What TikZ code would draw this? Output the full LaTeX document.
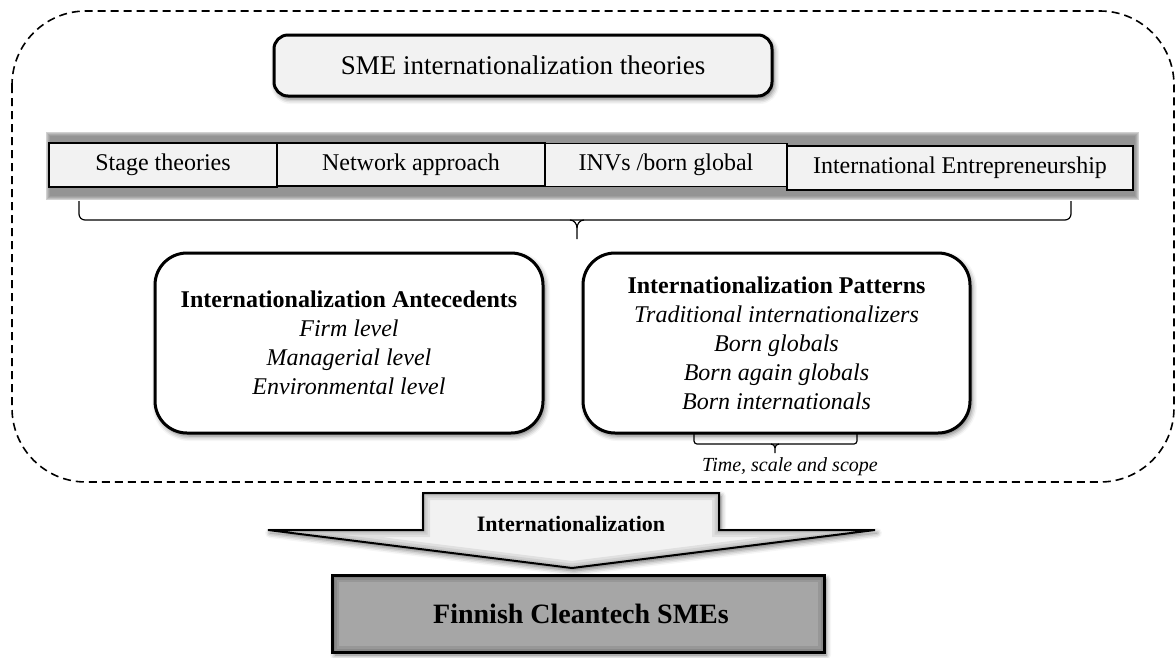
\documentclass[tikz,border=0pt]{standalone}
\usepackage{fontspec}
\setmainfont{Liberation Serif}
\usetikzlibrary{shadows.blur,calc}
\definecolor{lightfill}{HTML}{F2F2F2}
\definecolor{boxgray}{HTML}{A6A6A6}
\begin{document}
\begin{tikzpicture}[x=1pt,y=-1pt,
  body/.style={font=\fontsize{24}{29}\selectfont},
  softshadow/.style={blur shadow={shadow xshift=2pt,shadow yshift=-3pt,
      shadow blur radius=5pt,shadow opacity=55}},
  titlebox/.style={font=\fontsize{27}{32}\selectfont,draw,line width=3pt,
      rounded corners=14pt,fill=lightfill,softshadow,inner sep=0pt},
  strip/.style={body,draw,line width=1.4pt,fill=lightfill,inner sep=0pt,
      text height=16pt,text depth=5pt},
  roundbox/.style={body,draw,line width=3pt,rounded corners=32pt,fill=white,
      softshadow,align=center,inner sep=0pt,minimum width=388pt,minimum height=180pt},
  dashframe/.style={draw,line width=1.6pt,dash pattern=on 8pt off 5pt,rounded corners=74pt},
  bracket/.style={draw,line width=1.2pt},
  arrowpath/.style={insert path={(423,493) -- (719,493) -- (719,530) -- (875,530)
      -- (572,568) -- (268,530) -- (423,530) -- cycle}},
]
\useasboundingbox (0,0) rectangle (1176,657);

% outer dashed frame
\path[dashframe] (12,11) rectangle (1174,482);

% heading
\node[titlebox,minimum width=498pt,minimum height=61pt] (title) at (523,65.5)
  {SME internationalization theories};

% grey band behind the four theory boxes
\node[minimum width=1093pt,minimum height=68pt,inner sep=0pt] (band) at (592.5,166) {};
\foreach \k/\c in {0/18,2/26,4/33,6/38,8/42}
  \fill[black!\c] ($(band.north west)+(\k*0.5,\k*0.5)$) rectangle ($(band.south east)-(\k*0.5,\k*0.5)$);

\node[strip,minimum width=228pt,minimum height=44pt] (stage) at (163,165) {Stage theories};
\node[strip,minimum width=268pt,minimum height=43pt] (network) at (411,164.5) {Network approach};
\node[strip,minimum width=242pt,minimum height=43pt] (invs) at (666,165) {INVs /born global};
\node[strip,minimum width=346pt,minimum height=44pt] (ie) at (960,168) {International Entrepreneurship};

% brace gathering the theories
\coordinate (bl) at (79,201);
\coordinate (br) at (1071,201);
\coordinate (bm) at (577,220);
\path[bracket,rounded corners=6pt] (bl) -- (79,220) -- (1071,220) -- (br);
\path[bracket] ($(bm)+(-7,0)$) to[out=0,in=90] ($(bm)+(0,8)$) -- ($(bm)+(0,19)$);
\path[bracket] ($(bm)+(7,0)$) to[out=180,in=90] ($(bm)+(0,8)$);

% antecedents and patterns
\node[roundbox] (ante) at (349,343)
  {\textbf{Internationalization Antecedents}\\ \textit{Firm level}\\
   \textit{Managerial level}\\ \textit{Environmental level}};
\node[roundbox,minimum width=387pt] (patt) at (776.5,343)
  {\textbf{Internationalization Patterns}\\ \textit{Traditional internationalizers}\\
   \textit{Born globals}\\ \textit{Born again globals}\\ \textit{Born internationals}};

% small brace under the patterns
\coordinate (sl) at (694,434);
\coordinate (sr) at (857,434);
\coordinate (sm) at (775,444);
\path[bracket,rounded corners=3pt] (sl) -- (694,444) -- (857,444) -- (sr);
\path[bracket] ($(sm)+(-4,0)$) to[out=0,in=90] ($(sm)+(0,4)$) -- ($(sm)+(0,9)$);
\path[bracket] ($(sm)+(4,0)$) to[out=180,in=90] ($(sm)+(0,4)$);
\node[font=\fontsize{20}{24}\selectfont\itshape] (tss) at (790,467) {Time, scale and scope};

% internationalization arrow
\path[arrowpath,fill=lightfill,softshadow];
\begin{scope}
  \clip[arrowpath];
  \foreach \w in {14,9,5}
    \path[arrowpath,draw=black,opacity=0.07,line width=\w pt];
\end{scope}
\path[arrowpath,draw=black,line width=2pt,line join=miter];
\node[font=\fontsize{22}{26}\selectfont\bfseries,anchor=base] (intl) at (571,531)
  {Internationalization};

% target firms
\node[draw,line width=2pt,fill=boxgray,minimum width=491pt,minimum height=76pt,
      inner sep=0pt,softshadow] (fin) at (578.5,614) {};
\begin{scope}
  \clip (fin.north west) rectangle (fin.south east);
  \foreach \w in {14,9,5}
    \draw[black,opacity=0.09,line width=\w pt] (fin.north west) rectangle (fin.south east);
\end{scope}
\draw[line width=2pt] (fin.north west) rectangle (fin.south east);
\node[font=\fontsize{28}{32}\selectfont\bfseries,anchor=base] (fintxt) at (581,623)
  {Finnish Cleantech SMEs};
\end{tikzpicture}
\end{document}
